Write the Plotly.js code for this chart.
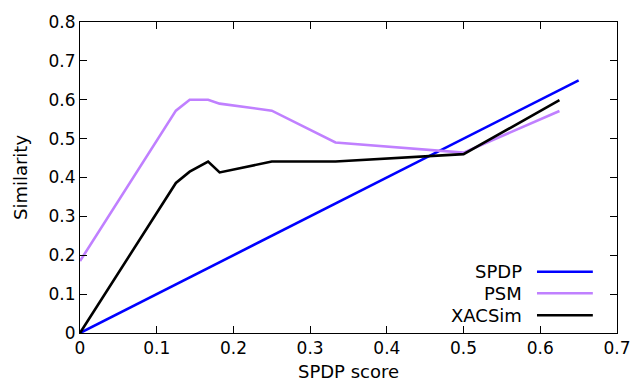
<!DOCTYPE html>
<html>
<head>
<meta charset="utf-8">
<script src="https://cdn.plot.ly/plotly-3.0.1.min.js"></script>
<style>html,body{margin:0;padding:0;background:#fff;}#chart{width:632px;height:382px;}</style>
</head>
<body>
<div id="chart"></div>
<script>
// Data
const seriesNames = ["SPDP", "PSM", "XACSim"];
const spdpX = [0, 0.65];
const spdpY = [0, 0.65];
const psmX = [0, 0.125, 0.143, 0.167, 0.182, 0.25, 0.333, 0.5, 0.625];
const psmY = [0.185, 0.572, 0.6, 0.6, 0.59, 0.572, 0.49, 0.464, 0.571];
const xacX = [0, 0.125, 0.143, 0.167, 0.182, 0.25, 0.333, 0.5, 0.625];
const xacY = [0, 0.386, 0.415, 0.441, 0.413, 0.441, 0.441, 0.46, 0.599];
const xTicks = [0, 0.1, 0.2, 0.3, 0.4, 0.5, 0.6, 0.7];
const yTicks = [0, 0.1, 0.2, 0.3, 0.4, 0.5, 0.6, 0.7, 0.8];

const colors = ["#0000ff", "#c080ff", "#000000"];
const FONT = "DejaVu Sans, sans-serif";
const LW = 2.6;

const traces = [
  {x: spdpX, y: spdpY, name: seriesNames[0], mode: "lines", line: {color: colors[0], width: LW}},
  {x: psmX, y: psmY, name: seriesNames[1], mode: "lines", line: {color: colors[1], width: LW}},
  {x: xacX, y: xacY, name: seriesNames[2], mode: "lines", line: {color: colors[2], width: LW}}
];

// gnuplot-style legend: label then sample line, bottom right inside plot
const legY = [0.197, 0.128, 0.057];
const annotations = seriesNames.map((n, i) => ({
  xref: "paper", yref: "paper", x: 0.826, y: legY[i], xanchor: "right", yanchor: "middle",
  text: n, showarrow: false, font: {family: FONT, size: 18, color: "#000"}
}));
const shapes = seriesNames.map((n, i) => ({
  type: "line", xref: "paper", yref: "paper", x0: 0.851, x1: 0.955, y0: legY[i], y1: legY[i],
  line: {color: colors[i], width: LW}
}));

const axisCommon = {
  showgrid: false, zeroline: false, showline: true, mirror: "allticks",
  linecolor: "#000", linewidth: 1, ticks: "inside", ticklen: 7, tickcolor: "#000", tickwidth: 1,
  tickfont: {family: FONT, size: 17, color: "#000"}
};

const layout = {
  width: 632, height: 382,
  margin: {l: 80, r: 15, t: 22, b: 49},
  paper_bgcolor: "#fff", plot_bgcolor: "#fff",
  showlegend: false,
  xaxis: Object.assign({}, axisCommon, {
    range: [0, 0.7], tickvals: xTicks, ticktext: xTicks.map(String),
    title: {text: "SPDP score", font: {family: FONT, size: 18, color: "#000"}, standoff: 8}
  }),
  yaxis: Object.assign({}, axisCommon, {
    range: [0, 0.8], tickvals: yTicks, ticktext: yTicks.map(String),
    title: {text: "Similarity", font: {family: FONT, size: 18, color: "#000"}, standoff: 16}
  }),
  annotations: annotations,
  shapes: shapes
};

Plotly.newPlot("chart", traces, layout, {displayModeBar: false, staticPlot: true});
</script>
</body>
</html>
